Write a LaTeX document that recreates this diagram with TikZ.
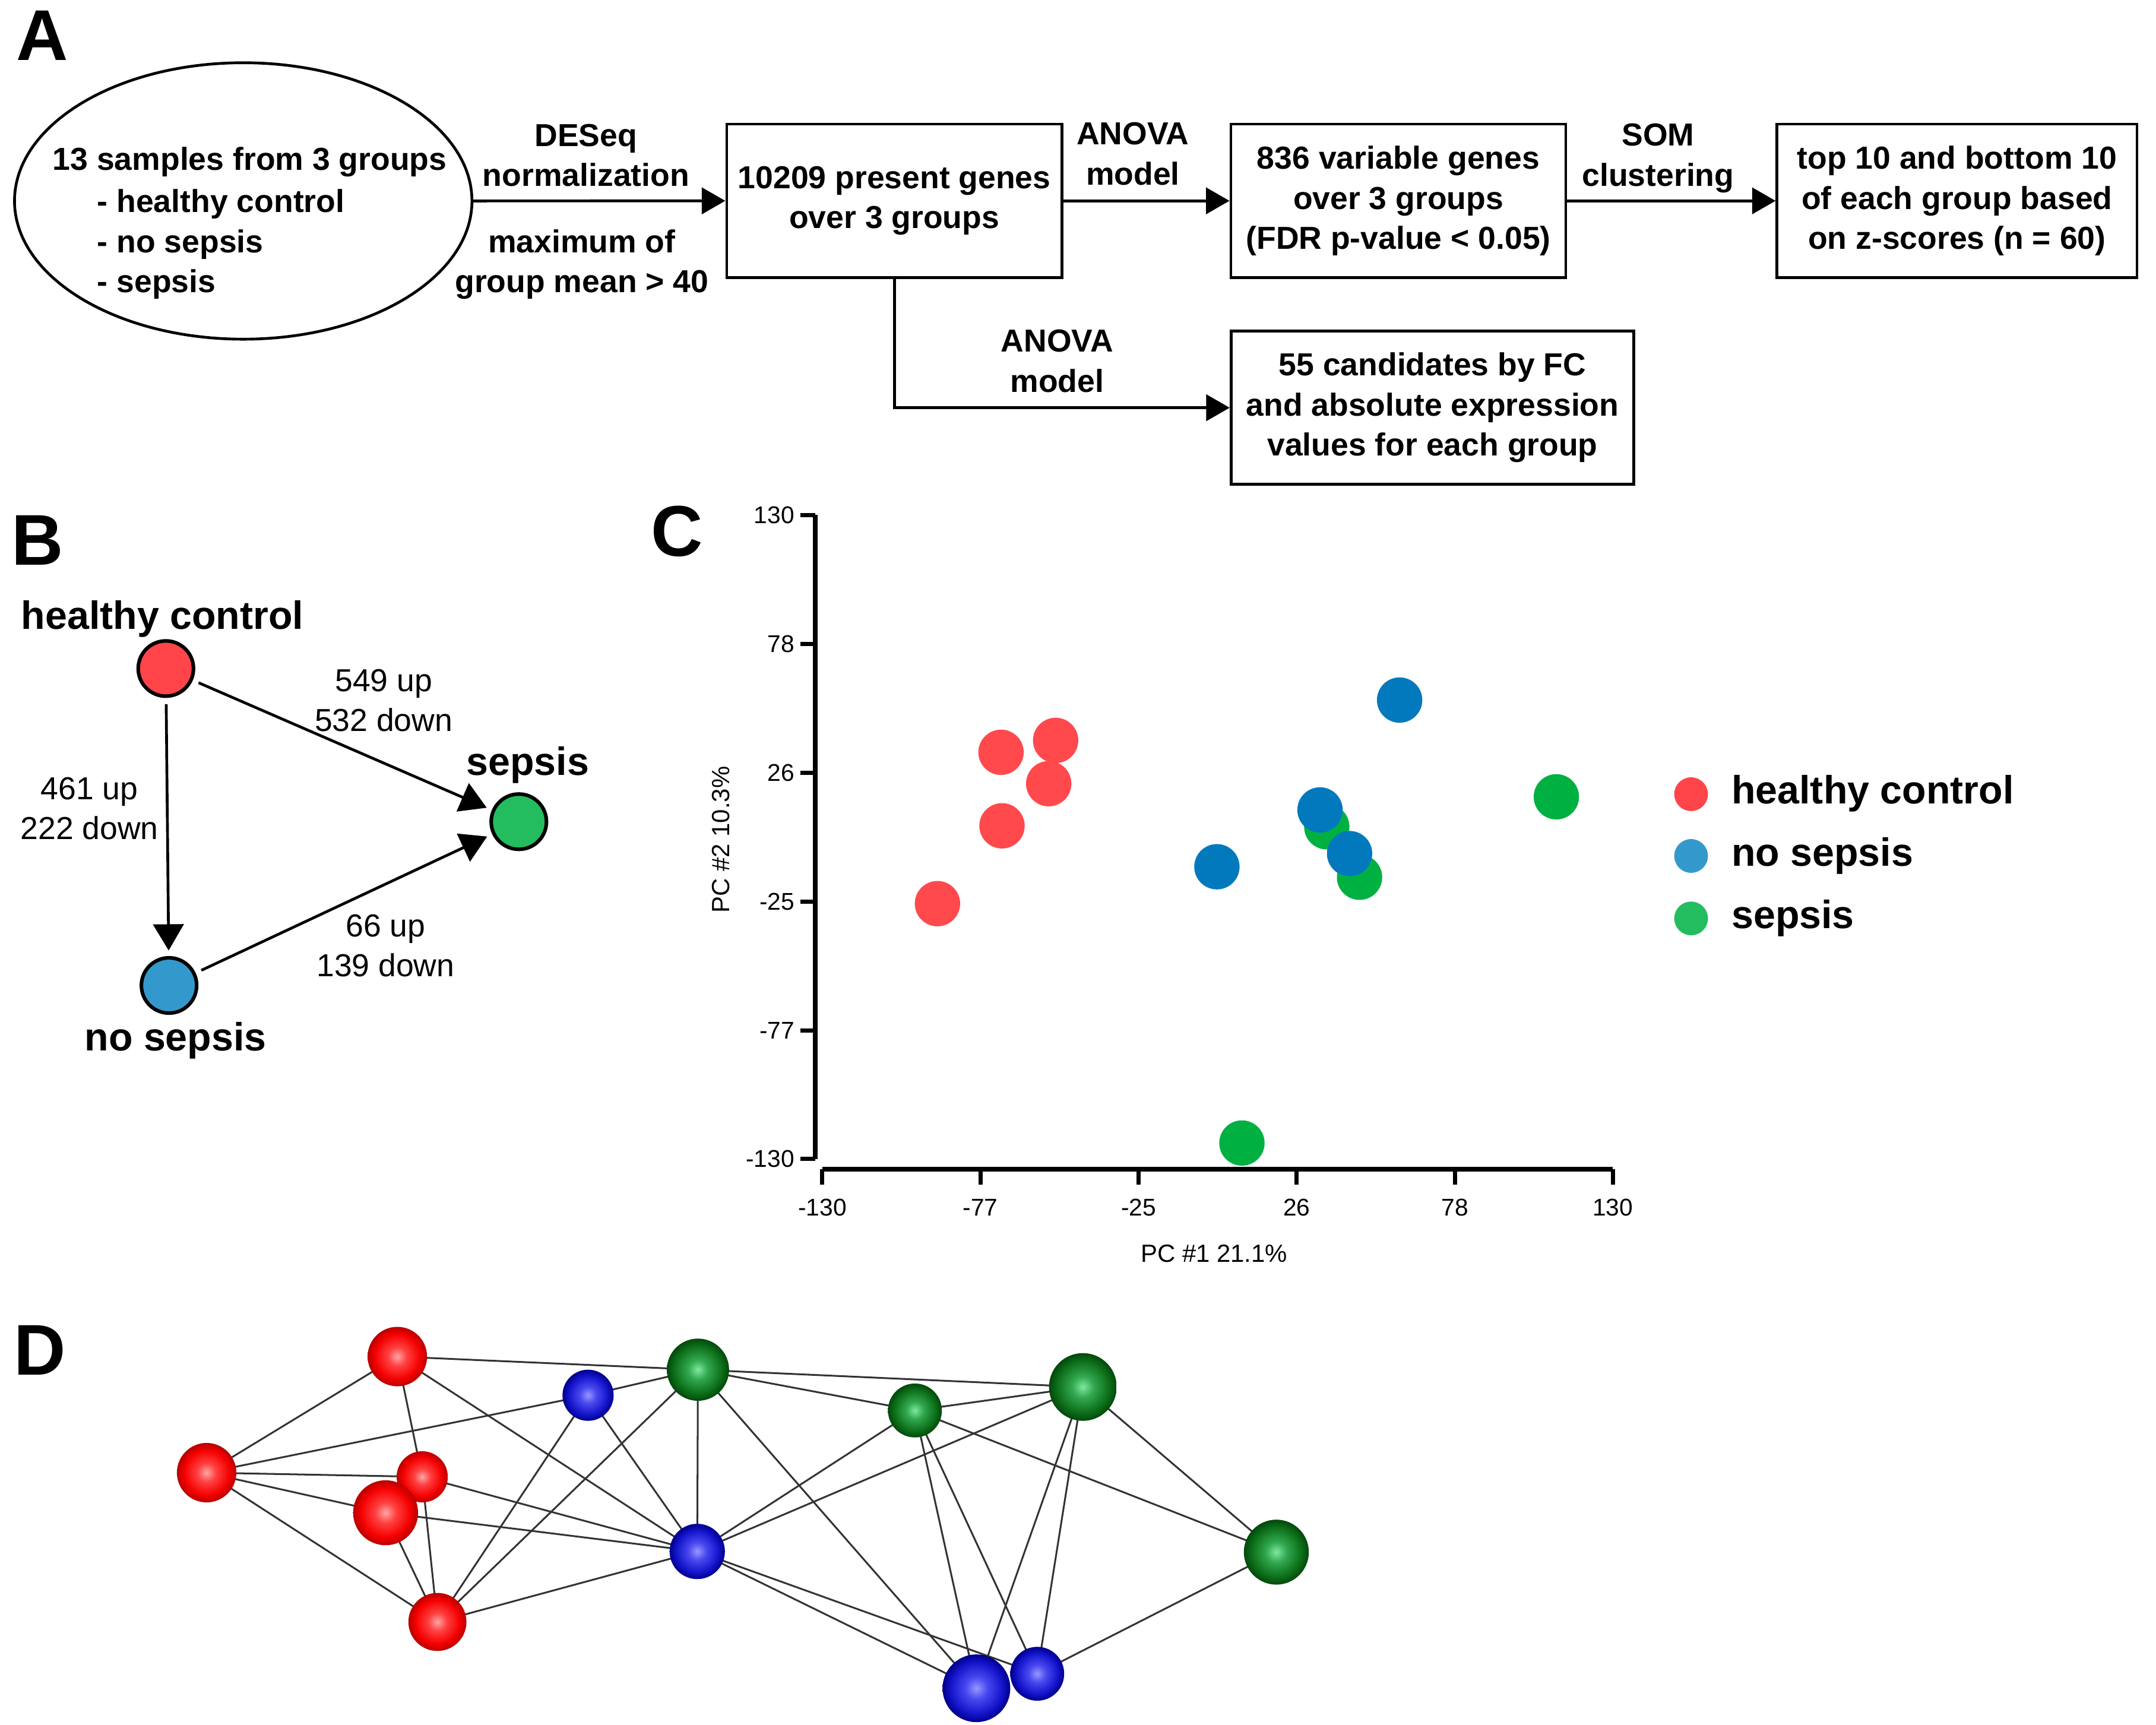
\documentclass[tikz,border=0pt]{standalone}
\usepackage{fontspec}
\setmainfont{Liberation Sans}
\usetikzlibrary{arrows.meta,shapes.geometric}
\definecolor{hcRed}{HTML}{FF4549}
\definecolor{nsBlue}{HTML}{3399CC}
\definecolor{sGreen}{HTML}{23BD5F}
\definecolor{pcRed}{HTML}{FF494D}
\definecolor{pcBlue}{HTML}{0279BD}
\definecolor{pcGreen}{HTML}{00B142}
\definecolor{edgeGray}{HTML}{333333}
\definecolor{rA}{HTML}{FFA6A6}
\definecolor{rB}{HTML}{FF4040}
\definecolor{rC}{HTML}{F50000}
\definecolor{rD}{HTML}{B80000}
\definecolor{bA}{HTML}{9898FF}
\definecolor{bB}{HTML}{4A4AF0}
\definecolor{bC}{HTML}{1414CC}
\definecolor{bD}{HTML}{00008C}
\definecolor{gA}{HTML}{80E8A0}
\definecolor{gB}{HTML}{32A850}
\definecolor{gC}{HTML}{0D701A}
\definecolor{gD}{HTML}{03480B}
\pgfdeclareradialshading{sphRed}{\pgfpoint{0bp}{0bp}}{color(0bp)=(rA); color(8bp)=(rB); color(19bp)=(rC); color(25bp)=(rD); color(50bp)=(rD)}
\pgfdeclareradialshading{sphBlue}{\pgfpoint{0bp}{0bp}}{color(0bp)=(bA); color(8bp)=(bB); color(19bp)=(bC); color(25bp)=(bD); color(50bp)=(bD)}
\pgfdeclareradialshading{sphGreen}{\pgfpoint{0bp}{0bp}}{color(0bp)=(gA); color(8bp)=(gB); color(19bp)=(gC); color(25bp)=(gD); color(50bp)=(gD)}
\pgfdeclarelayer{bgfill}
\pgfdeclarelayer{edges}
\pgfsetlayers{bgfill,edges,main}
\tikzset{
  panel/.style={font=\fontsize{52}{52}\selectfont\bfseries, inner sep=0pt},
  btxt/.style={font=\fontsize{23}{29}\selectfont\bfseries, align=center, inner sep=0pt},
  flowbox/.style={draw, line width=2pt, rectangle, inner sep=0pt, align=center, font=\fontsize{23}{29}\selectfont\bfseries},
  flowarrow/.style={line width=2pt, -{Triangle[length=17pt,width=19pt]}},
  grpnode/.style={circle, draw, line width=2.6pt, minimum size=40pt, inner sep=0pt},
  grplabel/.style={font=\fontsize{28.5}{30}\selectfont\bfseries, inner sep=0pt},
  cntlabel/.style={font=\fontsize{23}{28.8}\selectfont, align=center, inner sep=0pt},
  darrow/.style={line width=2pt, -{Triangle[length=19pt,width=22pt]}, shorten <=4.5pt, shorten >=4pt},
  axisline/.style={line width=3.5pt},
  ticklabel/.style={font=\fontsize{17.5}{17.5}\selectfont, inner sep=0pt},
  axlabel/.style={font=\fontsize{18}{18}\selectfont, inner sep=0pt},
  pcdot/.style={circle, minimum size=32.8pt, inner sep=0pt},
  lgdot/.style={circle, minimum size=24.4pt, inner sep=0pt},
  sphere/.style={circle, inner sep=0pt, shade},
  netedge/.style={edgeGray, line width=1.3pt},
}
\begin{document}
\begin{tikzpicture}[x=1pt,y=-1pt]
\useasboundingbox (0,0) rectangle (1560,1247.66);
\begin{pgfonlayer}{bgfill}
\fill[white] (0,0) rectangle (1560,1247.66);
\end{pgfonlayer}

% ---------------- Panel A ----------------
\node[panel] (labA) at (30.8,25.6) {A};
\node[ellipse, draw, line width=2pt, minimum width=331pt, minimum height=200pt, inner sep=0pt] (E) at (176,145.4) {};
\node[btxt] (Et1) at (180.7,117.2) {13 samples from 3 groups};
\node[btxt, align=left, anchor=west] (Et2) at (70.2,176.7) {- healthy control\\- no sepsis\\- sepsis};

\node[flowbox, minimum width=242.6pt, minimum height=111pt] (box1) at (647.1,145.3) {10209 present genes\\over 3 groups};
\node[flowbox, minimum width=242.4pt, minimum height=111pt] (box2) at (1011.8,145.3) {836 variable genes\\over 3 groups\\(FDR p-value {\textless} 0.05)};
\node[flowbox, minimum width=260.5pt, minimum height=111pt] (box3) at (1416,145.3) {top 10 and bottom 10\\of each group based\\on z-scores (n = 60)};
\node[flowbox, minimum width=291.5pt, minimum height=111pt] (box4) at (1036.5,295) {55 candidates by FC\\and absolute expression\\values for each group};

\draw[flowarrow] (E.east) -- (box1.west);
\draw[flowarrow] (box1.east) -- (box2.west);
\draw[flowarrow] (box2.east) -- (box3.west);
\draw[flowarrow] (box1.south) |- (box4.west);

\node[btxt] (l1) at (424,112.3) {DESeq\\normalization};
\node[btxt] (l2) at (421,191.2) {maximum of\\group mean {\textgreater} 40};
\node[btxt] (l3) at (819.7,111.4) {ANOVA\\model};
\node[btxt] (l4) at (1199.7,114.5) {SOM\\clustering};
\node[btxt] (l5) at (764.9,261.3) {ANOVA\\model};

% ---------------- Panel B ----------------
\node[panel] (labB) at (27,391) {B};
\node[grpnode, fill=hcRed] (hc) at (120,483.7) {};
\node[grpnode, fill=nsBlue] (ns) at (122.3,713) {};
\node[grpnode, fill=sGreen] (sp) at (375.4,594.5) {};
\node[grplabel] (hcl) at (117.5,447.7) {healthy control};
\node[grplabel] (spl) at (381.8,553.3) {sepsis};
\node[grplabel] (nsl) at (127,752.7) {no sepsis};
\draw[darrow] (hc) -- (ns);
\draw[darrow] (hc) -- (sp);
\draw[darrow] (ns) -- (sp);
\node[cntlabel] (c1) at (277.6,506.7) {549 up\\532 down};
\node[cntlabel] (c2) at (64.7,585) {461 up\\222 down};
\node[cntlabel] (c3) at (279,684.2) {66 up\\139 down};

% ---------------- Panel C ----------------
\node[panel] (labC) at (490,384.5) {C};
\draw[axisline] (590,372.7) -- (590,838.6);
\draw[axisline] (595,845.8) -- (1167,845.8);
\foreach \yy/\tl [count=\i] in {372.7/130, 465.9/78, 559.1/26, 652.3/-25, 745.5/-77, 838.6/-130}{
  \draw[line width=3pt] (579,\yy) -- (590,\yy);
  \node[ticklabel, anchor=east] (yt\i) at (575,\yy) {\tl};
}
\foreach \xx/\tl [count=\i] in {595/-130, 709.4/-77, 823.8/-25, 938.2/26, 1052.6/78, 1167/130}{
  \draw[line width=3pt] (\xx,845.8) -- (\xx,857);
  \node[ticklabel] (xt\i) at (\xx,873.5) {\tl};
}
\node[axlabel] (xlab) at (878.5,907) {PC \#1 21.1\%};
\node[axlabel, rotate=90] (ylab) at (521.5,607.5) {PC \#2 10.3\%};

\node[pcdot, fill=pcRed] (pr1) at (678.3,653.8) {};
\node[pcdot, fill=pcRed] (pr2) at (725,597.5) {};
\node[pcdot, fill=pcRed] (pr3) at (724.3,544.3) {};
\node[pcdot, fill=pcRed] (pr4) at (758.8,567) {};
\node[pcdot, fill=pcRed] (pr5) at (763.8,535.7) {};
\node[pcdot, fill=pcGreen] (pg1) at (1126.1,576.5) {};
\node[pcdot, fill=pcGreen] (pg2) at (960,598.2) {};
\node[pcdot, fill=pcGreen] (pg3) at (983.7,634.7) {};
\node[pcdot, fill=pcGreen] (pg4) at (898.6,827) {};
\node[pcdot, fill=pcBlue] (pb1) at (1012.7,506.5) {};
\node[pcdot, fill=pcBlue] (pb2) at (955.1,586) {};
\node[pcdot, fill=pcBlue] (pb3) at (976.5,617.6) {};
\node[pcdot, fill=pcBlue] (pb4) at (880.5,627.1) {};

\node[lgdot, fill=hcRed] (lg1) at (1223.6,574.6) {};
\node[lgdot, fill=nsBlue] (lg2) at (1223.6,619.3) {};
\node[lgdot, fill=sGreen] (lg3) at (1223.6,664.5) {};
\node[grplabel, anchor=west] (lt1) at (1252.7,574.3) {healthy control};
\node[grplabel, anchor=west] (lt2) at (1252.7,619.3) {no sepsis};
\node[grplabel, anchor=west] (lt3) at (1252.7,664.3) {sepsis};

% ---------------- Panel D ----------------
\node[panel] (labD) at (29,977) {D};
\node[sphere, shading=sphRed, minimum size=43pt] (R1) at (287.5,981.5) {};
\node[sphere, shading=sphRed, minimum size=43pt] (R2) at (149.5,1065.5) {};
\node[sphere, shading=sphRed, minimum size=37pt] (R3) at (305.5,1068.5) {};
\node[sphere, shading=sphRed, minimum size=47pt] (R4) at (279,1094.5) {};
\node[sphere, shading=sphRed, minimum size=42pt] (R5) at (316.5,1173.5) {};
\node[sphere, shading=sphBlue, minimum size=37pt] (B1) at (425.5,1009.5) {};
\node[sphere, shading=sphBlue, minimum size=40pt] (B2) at (504.5,1122.5) {};
\node[sphere, shading=sphBlue, minimum size=49pt] (B3) at (706.5,1221.5) {};
\node[sphere, shading=sphBlue, minimum size=39pt] (B4) at (750.5,1211) {};
\node[sphere, shading=sphGreen, minimum size=45pt] (G1) at (505,991) {};
\node[sphere, shading=sphGreen, minimum size=39pt] (G2) at (662,1020.5) {};
\node[sphere, shading=sphGreen, minimum size=49pt] (G3) at (783.5,1003.5) {};
\node[sphere, shading=sphGreen, minimum size=47pt] (G4) at (923.5,1123) {};
\begin{pgfonlayer}{edges}
\foreach \a/\b in {R1/G1, R1/R2, R1/R3, R1/B2, R2/B1, R2/R3, R2/R4, R2/R5, R3/B2, R4/B2, R4/R5, R3/R5, R5/B1, R5/G1, R5/B2, B1/G1, B1/B2, G1/G3, G1/G2, G1/B2, G1/B3, B2/G2, B2/G3, B2/B4, B2/B3, G2/G3, G2/G4, G2/B3, G2/B4, G3/G4, G3/B3, G3/B4, G4/B4}{
  \draw[netedge] (\a.center) -- (\b.center);
}
\end{pgfonlayer}
\end{tikzpicture}
\end{document}
